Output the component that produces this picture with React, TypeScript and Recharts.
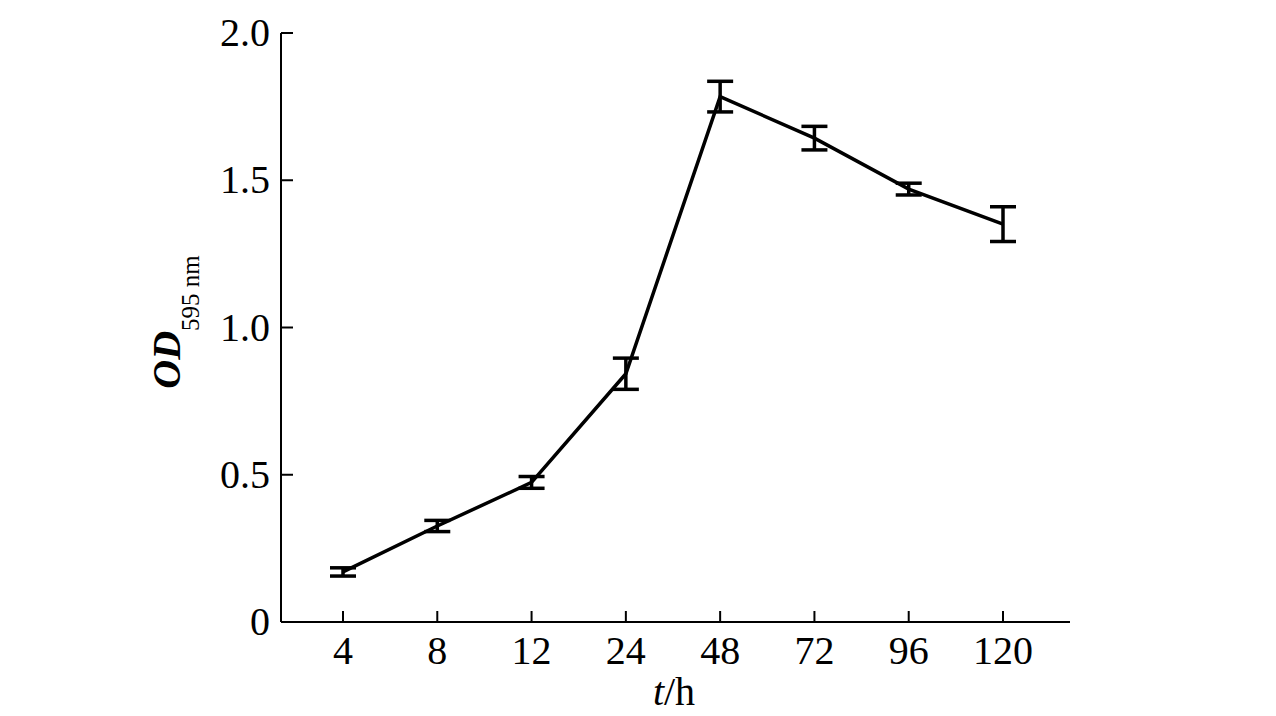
import React from 'react';
import { LineChart, Line, XAxis, YAxis, ErrorBar } from 'recharts';

const hours = ['4', '8', '12', '24', '48', '72', '96', '120'];
const odValues = [0.170, 0.326, 0.474, 0.843, 1.784, 1.643, 1.470, 1.351];
const odErrors = [0.014, 0.019, 0.020, 0.053, 0.052, 0.040, 0.020, 0.059];
const yTicks = [0, 0.5, 1, 1.5, 2];
const yTickLabels = ['0', '0.5', '1.0', '1.5', '2.0'];

const data = hours.map((h, i) => ({ hour: h, od: odValues[i], err: odErrors[i] }));

const FONT = '"Liberation Serif", "Times New Roman", serif';

const XTick = (props: any) => {
  const { x, y, payload } = props;
  return (
    <g>
      <line x1={x} y1={y} x2={x} y2={y - 11} stroke="#000" strokeWidth={2} />
      <text x={x} y={y + 42} textAnchor="middle" fontFamily={FONT} fontSize={40} fill="#000">
        {payload.value}
      </text>
    </g>
  );
};

const YTick = (props: any) => {
  const { x, y, index } = props;
  return (
    <g>
      <line x1={x} y1={y} x2={x + 12} y2={y} stroke="#000" strokeWidth={2} />
      <text x={x - 11} y={y + 13} textAnchor="end" fontFamily={FONT} fontSize={40} fill="#000">
        {yTickLabels[index]}
      </text>
    </g>
  );
};

const YLabel = () => (
  <text
    x={180}
    y={322}
    transform="rotate(-90 180 322)"
    textAnchor="middle"
    fontFamily={FONT}
    fill="#000"
  >
    <tspan fontSize={40} fontStyle="italic" fontWeight="bold" fontFamily={FONT}>OD</tspan>
    <tspan fontSize={25} dy={19} fontFamily={FONT}>595 nm</tspan>
  </text>
);

const XLabel = () => (
  <text x={674} y={705} textAnchor="middle" fontFamily={FONT} fontSize={40} fill="#000">
    <tspan fontStyle="italic">t</tspan>
    <tspan>/h</tspan>
  </text>
);

export default function App() {
  return (
    <div style={{ position: 'absolute', left: 0, top: 0, width: 1276, height: 716, background: '#fff' }}>
      <LineChart
        width={1276}
        height={716}
        data={data}
        margin={{ top: 33, right: 206, bottom: 0, left: 0 }}
      >
        <XAxis
          dataKey="hour"
          height={94}
          padding={{ left: 62, right: 67 }}
          interval={0}
          tickSize={0}
          tickMargin={0}
          tick={<XTick />}
          tickLine={false}
          axisLine={{ stroke: '#000', strokeWidth: 2 }}
          label={<XLabel />}
        />
        <YAxis
          width={281}
          domain={[0, 2]}
          ticks={yTicks}
          interval={0}
          tickSize={0}
          tickMargin={0}
          tick={<YTick />}
          tickLine={false}
          axisLine={{ stroke: '#000', strokeWidth: 2 }}
          label={<YLabel />}
        />
        <Line
          type="linear"
          dataKey="od"
          stroke="#000"
          strokeWidth={3.5}
          dot={false}
          isAnimationActive={false}
        >
          <ErrorBar dataKey="err" direction="y" width={13} stroke="#000" strokeWidth={3.5} isAnimationActive={false} />
        </Line>
      </LineChart>
    </div>
  );
}
